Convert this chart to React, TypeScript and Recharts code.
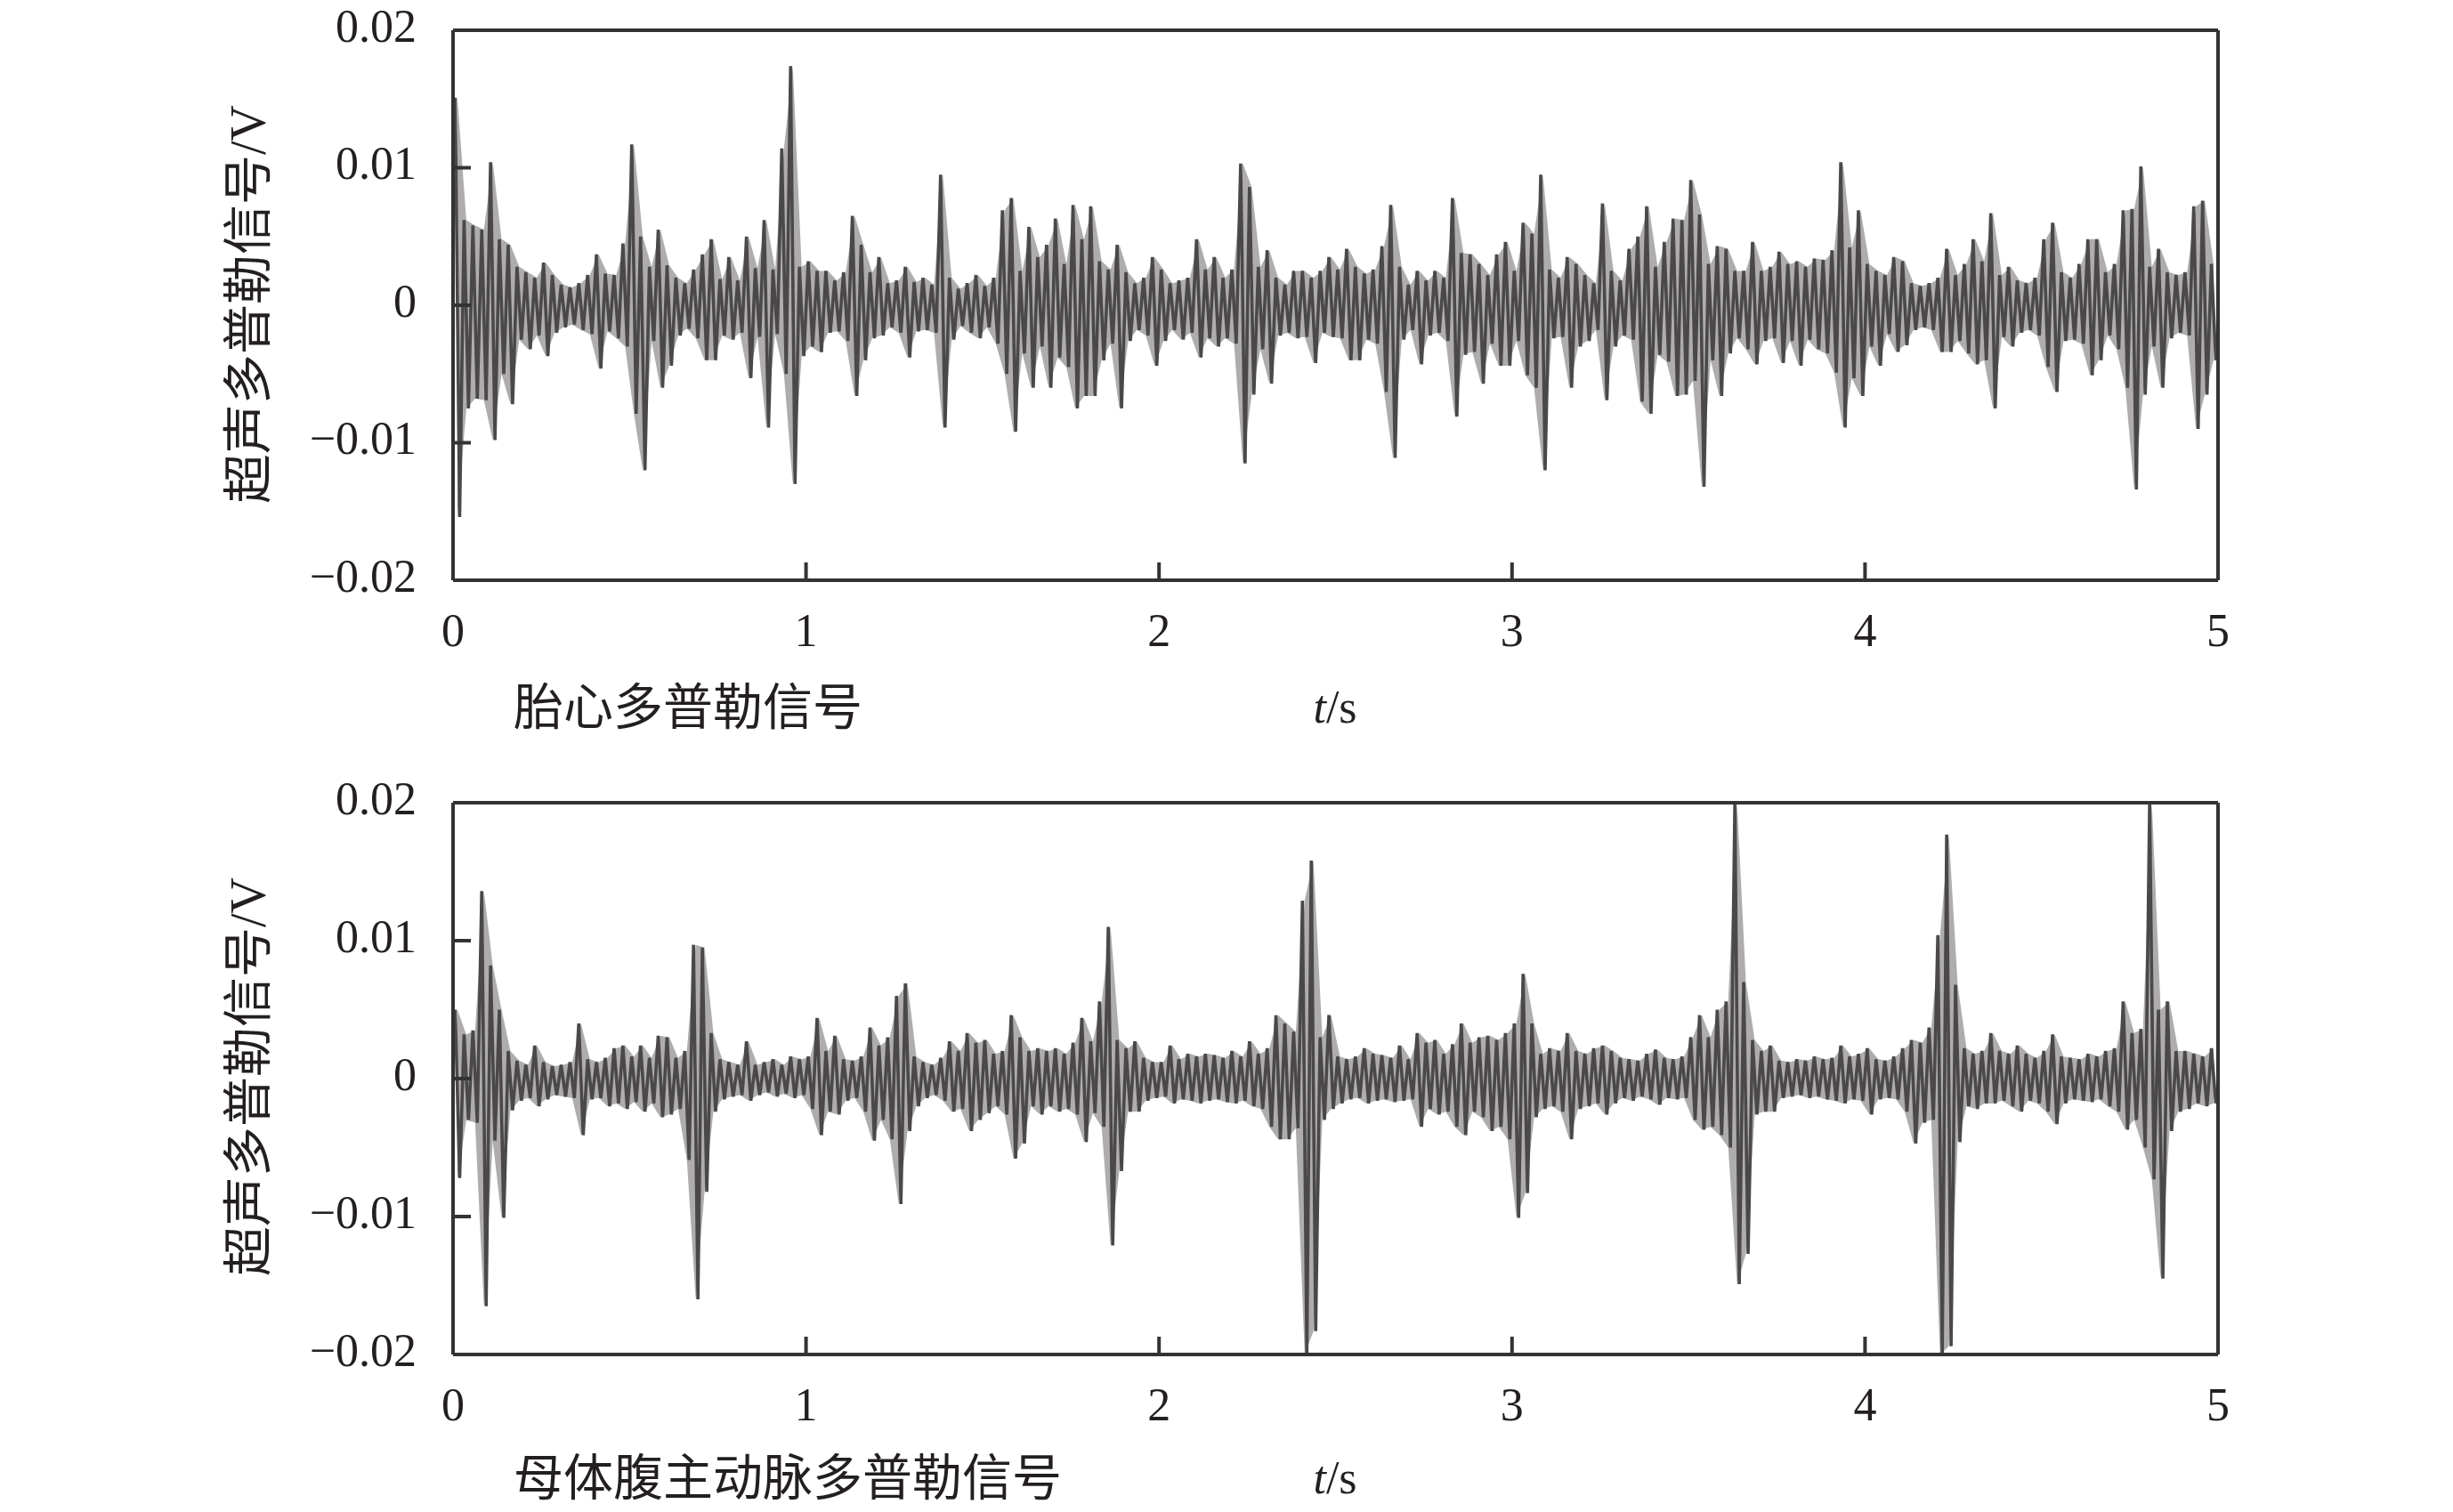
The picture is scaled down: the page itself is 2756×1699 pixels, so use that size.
import React from 'react';
import { ComposedChart, Area, Line, XAxis, YAxis } from 'recharts';

// Each value is the max (Hi) or min (Lo) of the signal, in mV, inside one 0.025 s bin (0..5 s).
const BIN_SECONDS = 0.025;
const timeTicks = [0, 1, 2, 3, 4, 5];
const voltTicks = [-0.02, -0.01, 0, 0.01, 0.02];

const fetalHi = [
  15.1, 6.2, 5.8, 5.5, 10.4, 4.8, 4.4, 2.8, 2.4, 2.0,
  3.1, 2.2, 1.5, 1.3, 1.6, 2.2, 3.7, 2.3, 2.2, 4.5,
  11.7, 5.0, 2.8, 5.5, 2.9, 2.0, 1.6, 2.6, 3.7, 4.8,
  1.9, 3.5, 1.8, 5.0, 2.7, 6.2, 2.6, 11.4, 17.4, 2.8,
  3.2, 2.5, 2.5, 1.8, 2.4, 6.5, 4.4, 2.4, 3.5, 1.6,
  1.8, 2.8, 1.7, 2.0, 1.5, 9.5, 2.0, 1.2, 1.6, 2.2,
  1.4, 2.0, 6.9, 7.8, 2.5, 5.7, 3.5, 4.4, 6.3, 3.0,
  7.3, 4.8, 7.2, 3.2, 2.6, 4.4, 2.4, 1.6, 2.0, 3.5,
  2.6, 1.6, 1.8, 2.0, 4.8, 2.6, 3.5, 2.0, 2.6, 10.3,
  8.6, 2.8, 4.0, 2.0, 1.5, 2.5, 2.5, 2.0, 2.5, 3.5,
  2.6, 4.1, 2.8, 2.3, 2.6, 4.3, 7.3, 2.8, 1.5, 2.5,
  1.8, 2.5, 2.0, 7.8, 3.8, 3.7, 3.0, 2.2, 3.7, 4.6,
  2.5, 6.0, 5.2, 9.5, 2.6, 2.0, 3.5, 3.0, 2.2, 1.6,
  7.4, 2.5, 1.8, 4.1, 5.0, 7.2, 2.8, 4.6, 6.3, 6.2,
  9.1, 6.6, 3.0, 4.3, 4.1, 2.5, 2.5, 4.6, 2.5, 2.8,
  3.9, 3.0, 3.2, 2.8, 3.4, 3.3, 4.0, 10.4, 4.2, 6.9,
  3.0, 2.5, 2.2, 3.5, 3.2, 1.6, 1.4, 1.6, 2.0, 4.1,
  2.2, 3.0, 4.8, 3.2, 6.7, 2.2, 2.8, 1.8, 1.6, 2.0,
  4.8, 6.0, 2.4, 2.0, 3.0, 4.8, 4.8, 2.4, 3.0, 6.9,
  7.0, 10.1, 2.8, 4.1, 2.4, 2.2, 2.4, 7.2, 7.6, 3.0,
];

const fetalLo = [
  -15.4, -7.5, -6.8, -6.9, -9.8, -5.0, -7.2, -2.5, -3.2, -2.2,
  -3.7, -2.0, -1.6, -1.4, -1.8, -2.1, -4.6, -1.9, -2.4, -3.0,
  -7.9, -12.0, -2.6, -6.0, -4.4, -2.2, -1.7, -2.4, -4.0, -4.0,
  -2.2, -2.5, -2.0, -5.3, -2.3, -8.9, -2.1, -5.0, -13.0, -3.7,
  -3.0, -3.4, -2.0, -1.9, -2.6, -6.6, -4.0, -2.4, -2.2, -1.6,
  -2.0, -3.8, -1.9, -1.8, -2.0, -8.9, -2.5, -1.5, -2.0, -2.4,
  -1.6, -2.8, -5.0, -9.2, -3.5, -6.0, -3.0, -6.0, -3.8, -4.5,
  -7.5, -6.6, -6.6, -4.0, -2.8, -7.5, -2.6, -1.8, -2.2, -4.4,
  -2.6, -1.8, -2.5, -2.0, -3.8, -2.4, -3.0, -2.4, -2.8, -11.5,
  -6.5, -3.2, -5.7, -2.2, -2.0, -2.4, -2.3, -4.2, -2.0, -2.3,
  -2.4, -4.0, -4.0, -2.5, -2.8, -6.3, -11.1, -2.5, -1.8, -4.3,
  -2.2, -2.0, -2.6, -8.1, -3.6, -3.4, -5.7, -2.8, -4.4, -4.4,
  -2.6, -5.1, -6.0, -12.0, -2.4, -2.3, -6.0, -3.0, -2.6, -1.8,
  -6.9, -3.0, -2.2, -2.5, -7.0, -7.9, -3.6, -4.1, -6.6, -6.5,
  -5.5, -13.2, -4.0, -6.6, -3.5, -2.4, -3.2, -4.3, -2.6, -2.4,
  -4.2, -2.6, -4.4, -2.5, -3.2, -3.5, -4.9, -8.9, -5.3, -6.6,
  -3.0, -4.4, -2.1, -3.4, -2.9, -1.8, -1.6, -1.8, -3.4, -3.4,
  -2.6, -3.5, -4.3, -4.0, -7.5, -2.3, -3.0, -2.0, -1.8, -2.2,
  -4.5, -6.3, -2.6, -2.5, -2.8, -5.1, -4.0, -2.2, -3.2, -6.0,
  -13.4, -6.5, -3.0, -6.0, -2.4, -2.0, -2.2, -9.0, -6.5, -4.0,
];

const aortaHi = [
  5.0, 3.2, 3.5, 13.6, 8.2, 5.0, 2.0, 1.3, 1.0, 2.4,
  1.2, 0.9, 1.0, 1.2, 4.0, 1.4, 1.2, 1.5, 2.2, 2.4,
  1.6, 2.4, 1.5, 3.1, 3.0, 1.5, 2.0, 9.7, 9.5, 3.3,
  1.4, 1.2, 1.0, 2.7, 1.0, 1.2, 1.4, 1.0, 1.6, 1.4,
  1.6, 4.4, 2.0, 3.1, 1.4, 1.3, 1.6, 3.7, 2.4, 3.0,
  6.0, 6.9, 1.6, 1.2, 1.0, 1.5, 2.7, 2.0, 3.3, 2.6,
  2.8, 1.8, 2.0, 4.6, 3.0, 2.0, 2.2, 2.0, 2.2, 1.8,
  2.6, 4.4, 2.7, 5.6, 11.0, 2.8, 2.2, 2.7, 1.5, 1.2,
  1.2, 2.4, 1.4, 1.8, 1.6, 1.8, 1.7, 1.5, 2.0, 1.6,
  2.7, 1.8, 2.2, 4.6, 4.0, 3.4, 12.9, 15.8, 3.0, 4.6,
  1.6, 1.4, 1.6, 2.2, 1.8, 1.7, 1.5, 2.4, 1.4, 3.3,
  2.6, 2.8, 1.8, 2.5, 4.0, 2.6, 3.0, 3.1, 2.8, 3.3,
  4.0, 7.6, 4.0, 1.8, 2.2, 2.0, 3.3, 2.0, 1.8, 2.2,
  2.4, 2.0, 1.5, 1.4, 1.3, 1.8, 2.1, 1.5, 1.4, 1.6,
  3.0, 4.6, 3.0, 5.0, 5.6, 20.0, 7.0, 2.8, 2.0, 2.4,
  1.3, 1.2, 1.4, 1.3, 1.6, 1.4, 1.5, 2.4, 1.6, 1.8,
  2.2, 1.4, 1.3, 1.6, 2.2, 2.8, 2.6, 3.7, 10.4, 17.7,
  6.8, 2.2, 1.8, 2.0, 3.3, 2.0, 1.8, 2.4, 1.8, 1.5,
  2.0, 3.2, 1.6, 1.5, 1.4, 1.8, 1.6, 2.0, 2.2, 5.6,
  3.3, 3.6, 20.0, 5.0, 5.6, 2.0, 2.0, 1.8, 1.6, 2.2,
];

const aortaLo = [
  -7.2, -3.0, -3.2, -16.5, -4.5, -10.1, -2.3, -1.6, -1.4, -2.0,
  -1.5, -1.2, -1.3, -1.4, -4.1, -1.5, -1.4, -2.0, -1.8, -2.2,
  -1.7, -2.4, -1.8, -2.8, -2.6, -2.2, -5.9, -16.0, -8.2, -2.4,
  -1.5, -1.3, -1.2, -1.6, -1.2, -1.0, -1.3, -1.1, -1.4, -1.2,
  -2.2, -4.1, -2.4, -2.6, -1.6, -1.4, -2.4, -4.5, -3.0, -4.4,
  -9.1, -3.8, -2.0, -1.4, -1.2, -1.6, -2.4, -2.2, -3.8, -3.0,
  -2.5, -2.0, -2.6, -5.8, -4.7, -2.0, -2.6, -2.0, -2.4, -2.2,
  -2.6, -4.6, -2.5, -3.5, -12.1, -6.7, -2.4, -2.4, -1.6, -1.4,
  -1.3, -1.8, -1.5, -1.6, -1.8, -1.6, -1.5, -1.7, -1.8, -1.6,
  -2.0, -2.2, -3.5, -4.4, -4.4, -3.6, -20.0, -18.3, -3.0, -2.2,
  -1.8, -1.5, -1.4, -1.8, -1.6, -1.5, -1.7, -1.6, -1.5, -3.5,
  -2.2, -2.6, -2.4, -3.5, -4.1, -2.4, -2.8, -3.8, -3.5, -4.4,
  -10.1, -8.3, -2.8, -2.2, -2.0, -2.4, -4.4, -2.2, -2.0, -1.8,
  -2.6, -1.8, -1.4, -1.6, -1.3, -1.5, -1.9, -1.4, -1.5, -1.4,
  -3.0, -3.7, -3.5, -4.1, -5.0, -14.9, -12.7, -2.6, -2.4, -2.4,
  -1.4, -1.3, -1.2, -1.4, -1.3, -1.5, -1.6, -1.8, -1.5, -1.6,
  -2.6, -1.5, -1.4, -1.5, -2.4, -4.7, -3.2, -3.0, -20.0, -19.4,
  -4.6, -2.0, -2.2, -1.8, -1.8, -1.6, -2.0, -2.4, -1.6, -1.8,
  -2.4, -3.3, -1.8, -1.5, -1.6, -1.7, -1.5, -2.0, -2.4, -3.7,
  -3.0, -5.0, -7.3, -14.5, -3.8, -2.4, -2.2, -1.8, -2.0, -1.8,
];

const captions = ['胎心多普勒信号', '母体腹主动脉多普勒信号'];
const yTitle = '超声多普勒信号/V';

// bin [min, max] in mV -> range points in V at each bin centre (light envelope)
function toRange(hi: number[], lo: number[]) {
  return hi.map((h, k) => ({ t: (k + 0.5) * BIN_SECONDS, r: [lo[k] / 1000, h / 1000] }));
}
// bin max then min -> alternating trace points (dark waveform)
function toTrace(hi: number[], lo: number[]) {
  const out: { t: number; v: number }[] = [];
  for (let k = 0; k < hi.length; k++) {
    out.push({ t: (k + 0.25) * BIN_SECONDS, v: hi[k] / 1000 });
    out.push({ t: (k + 0.75) * BIN_SECONDS, v: lo[k] / 1000 });
  }
  return out;
}

const panels = [
  { range: toRange(fetalHi, fetalLo), trace: toTrace(fetalHi, fetalLo) },
  { range: toRange(aortaHi, aortaLo), trace: toTrace(aortaHi, aortaLo) },
];

const FONT = "'Liberation Serif', 'Times New Roman', 'Noto Sans CJK SC', serif";
const INK = '#231f20';
const FRAME = '#333333';
const WAVE = '#4a4848';
const HALO = '#aeacac';

function fmtVolt(v: number) {
  if (Math.abs(v) < 1e-12) return '0';
  const s = Math.abs(v).toFixed(2);
  return v < 0 ? '\u2212' + s : s;
}

const XTick = (p: any) => (
  <text x={p.x} y={p.y} textAnchor="middle" dominantBaseline="central" fontFamily={FONT} fontSize={52} fill={INK}>
    {String(p.payload.value)}
  </text>
);

const YTick = (p: any) => (
  <text x={p.x} y={p.y - 5} textAnchor="end" dominantBaseline="central" fontFamily={FONT} fontSize={52} fill={INK}>
    {fmtVolt(p.payload.value)}
  </text>
);

const lineStyle = { stroke: FRAME, strokeWidth: 4 };

function Panel({ range, trace, height, marginBottom }: { range: any[]; trace: any[]; height: number; marginBottom: number }) {
  return (
    <ComposedChart width={2756} height={height} margin={{ top: 24, right: 254, bottom: marginBottom, left: 409 }}>
      <XAxis
        xAxisId="b"
        dataKey="t"
        type="number"
        domain={[0, 5]}
        ticks={timeTicks}
        allowDataOverflow
        orientation="bottom"
        height={100}
        tickSize={-20}
        tickMargin={76}
        axisLine={lineStyle}
        tickLine={lineStyle}
        tick={XTick}
        interval={0}
      />
      <XAxis
        xAxisId="top"
        dataKey="t"
        type="number"
        domain={[0, 5]}
        ticks={timeTicks}
        allowDataOverflow
        orientation="top"
        height={10}
        tickSize={-20}
        axisLine={lineStyle}
        tickLine={lineStyle}
        tick={false}
        interval={0}
      />
      <YAxis
        yAxisId="l"
        type="number"
        domain={[-0.02, 0.02]}
        ticks={voltTicks}
        allowDataOverflow
        width={100}
        tickSize={-20}
        tickMargin={61}
        axisLine={lineStyle}
        tickLine={lineStyle}
        tick={YTick}
        interval={0}
      />
      <YAxis
        yAxisId="r"
        orientation="right"
        type="number"
        domain={[-0.02, 0.02]}
        ticks={voltTicks}
        allowDataOverflow
        width={10}
        tickSize={-20}
        axisLine={lineStyle}
        tickLine={lineStyle}
        tick={false}
        interval={0}
      />
      <Area
        data={range}
        xAxisId="b"
        yAxisId="l"
        type="linear"
        dataKey="r"
        stroke="none"
        fill={HALO}
        fillOpacity={1}
        dot={false}
        activeDot={false}
        isAnimationActive={false}
      />
      <Line
        data={trace}
        xAxisId="b"
        yAxisId="l"
        type="linear"
        dataKey="v"
        stroke={WAVE}
        strokeWidth={3.6}
        dot={false}
        activeDot={false}
        isAnimationActive={false}
      />
    </ComposedChart>
  );
}

function Titles() {
  const yt = [
    { cx: 279, cy: 342 },
    { cx: 279, cy: 1210 },
  ];
  const cap = [
    { y: 795, ts: 812 },
    { y: 1661, ts: 1678 },
  ];
  return (
    <svg width={2756} height={1699} style={{ position: 'absolute', left: 0, top: 0, pointerEvents: 'none' }}>
      {yt.map((p, i) => (
        <text
          key={'y' + i}
          x={p.cx}
          y={p.cy}
          transform={`rotate(-90 ${p.cx} ${p.cy})`}
          textAnchor="middle"
          dominantBaseline="central"
          fontFamily={FONT}
          fontSize={56}
          fill={INK}
        >
          {yTitle}
        </text>
      ))}
      {cap.map((p, i) => (
        <g key={'c' + i}>
          <text x={577} y={p.y} dominantBaseline="central" fontFamily={FONT} fontSize={56} fill={INK}>
            {captions[i]}
          </text>
          <text x={1500} y={p.ts} textAnchor="middle" fontFamily={FONT} fontSize={52} fill={INK}>
            <tspan fontStyle="italic">t</tspan>/s
          </text>
        </g>
      ))}
    </svg>
  );
}

export default function App() {
  return (
    <div style={{ position: 'absolute', left: 0, top: 0, width: 2756, height: 1699, background: '#fff', overflow: 'hidden' }}>
      <div style={{ position: 'absolute', left: 0, top: 0 }}>
        <Panel range={panels[0].range} trace={panels[0].trace} height={860} marginBottom={108} />
      </div>
      <div style={{ position: 'absolute', left: 0, top: 868 }}>
        <Panel range={panels[1].range} trace={panels[1].trace} height={831} marginBottom={77} />
      </div>
      <Titles />
    </div>
  );
}
